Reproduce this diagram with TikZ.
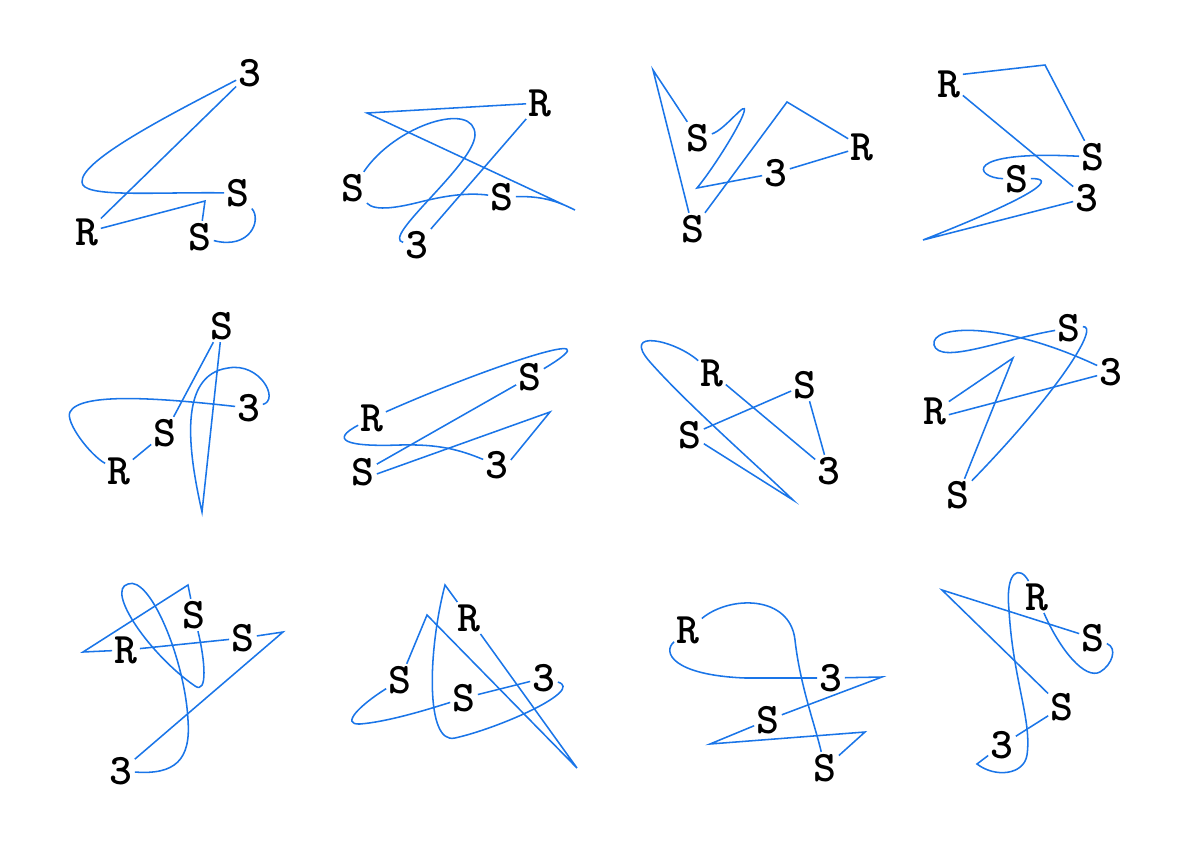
\documentclass[tikz,border=0pt]{standalone}
\usepackage{tikz}
\definecolor{wireblue}{RGB}{26,117,232}
\tikzset{
  lbl/.style={font=\ttfamily\bfseries\fontsize{31}{33}\selectfont, inner sep=1.5pt},
  wire/.style={draw=wireblue, line width=1.1pt},
}
\begin{document}
\begin{tikzpicture}[x=0.025cm, y=-0.025cm]
  \useasboundingbox (0,0) rectangle (1191,842);
  \node[lbl] (T1) at (250,73) {3};
  \node[lbl] (Sa1) at (238,193) {S};
  \node[lbl] (Sb1) at (200,237) {S};
  \node[lbl] (R1) at (87,232) {R};
  \coordinate (v1) at (205,201);
  \draw[wire] (T1) -- (R1);
  \draw[wire] (R1) -- (v1) -- (Sb1);
  \draw[wire] (T1) .. controls (175,112) and (80,160) .. (82,182) .. controls (82,198) and (150,192) .. (Sa1);
  \draw[wire] (Sa1) .. controls (262,220) and (250,250) .. (Sb1);

  \node[lbl] (R2) at (540,103) {R};
  \node[lbl] (Sa2) at (353,188) {S};
  \node[lbl] (Sb2) at (502,197) {S};
  \node[lbl] (T2) at (417,245) {3};
  \coordinate (v2a) at (367,113);
  \coordinate (v2b) at (575,210);
  \draw[wire] (R2) -- (v2a) -- (v2b) .. controls (555,200) and (540,196) .. (Sb2);
  \draw[wire] (R2) -- (T2);
  \draw[wire] (Sa2) .. controls (395,125) and (475,100) .. (475,135) .. controls (474,165) and (380,238) .. (T2);
  \draw[wire] (Sa2) .. controls (375,212) and (400,207) .. (420,202) .. controls (440,197) and (465,192) .. (Sb2);

  \node[lbl] (Sa3) at (698,138) {S};
  \node[lbl] (Sb3) at (693,229) {S};
  \node[lbl] (T3) at (776,173) {3};
  \node[lbl] (R3) at (862,147) {R};
  \coordinate (v3a) at (653,70);
  \coordinate (v3b) at (697,188);
  \coordinate (v3c) at (787,102);
  \draw[wire] (Sa3) -- (v3a) -- (Sb3);
  \draw[wire] (Sa3) .. controls (725,130) and (748,98) .. (744,112) .. controls (740,126) and (712,170) .. (v3b) -- (T3);
  \draw[wire] (Sb3) -- (v3c) -- (R3);
  \draw[wire] (R3) -- (T3);

  \node[lbl] (R4) at (949,84) {R};
  \node[lbl] (Sa4) at (1093,157) {S};
  \node[lbl] (Sb4) at (1017,179) {S};
  \node[lbl] (T4) at (1087,198) {3};
  \coordinate (v4a) at (1045,65);
  \coordinate (v4b) at (923,240);
  \draw[wire] (R4.35) -- (v4a) -- (Sa4);
  \draw[wire] (R4) -- (T4);
  \draw[wire] (Sa4) .. controls (960,150) and (975,178) .. (Sb4);
  \draw[wire] (Sb4) .. controls (1055,178) and (1045,192) .. (v4b) -- (T4);

  \node[lbl] (Sa5) at (222,326) {S};
  \node[lbl] (T5) at (249,408) {3};
  \node[lbl] (Sb5) at (165,433) {S};
  \node[lbl] (R5) at (119,471) {R};
  \coordinate (v5a) at (202,512);
  \draw[wire] (Sa5) -- (Sb5);
  \draw[wire] (Sa5) -- (v5a) .. controls (188,450) and (178,375) .. (228,368) .. controls (260,362) and (280,400) .. (T5);
  \draw[wire] (T5) .. controls (160,398) and (80,392) .. (70,412) .. controls (65,422) and (90,455) .. (R5);
  \draw[wire] (R5) -- (Sb5);

  \node[lbl] (Sa6) at (530,377) {S};
  \node[lbl] (R6) at (372,418) {R};
  \node[lbl] (Sb6) at (363,472) {S};
  \node[lbl] (T6) at (497,465) {3};
  \coordinate (v6a) at (550,412);
  \draw[wire] (R6) .. controls (480,370) and (625,320) .. (Sa6);
  \draw[wire] (Sa6) -- (Sb6);
  \draw[wire] (Sb6.-8) -- (v6a) -- (T6.20);
  \draw[wire] (R6) .. controls (330,440) and (345,447) .. (400,445) .. controls (440,444) and (460,450) .. (T6);

  \node[lbl] (R7) at (712,373) {R};
  \node[lbl] (Sa7) at (805,385) {S};
  \node[lbl] (Sb7) at (690,435) {S};
  \node[lbl] (T7) at (829,471) {3};
  \coordinate (v7a) at (793,500);
  \draw[wire] (R7) .. controls (675,340) and (620,328) .. (650,362) .. controls (688,405) and (760,468) .. (v7a) -- (Sb7);
  \draw[wire] (R7) -- (T7);
  \draw[wire] (Sa7) -- (Sb7);
  \draw[wire] (Sa7) -- (T7);

  \node[lbl] (Sa8) at (1069,328) {S};
  \node[lbl] (T8) at (1111,372) {3};
  \node[lbl] (R8) at (935,411) {R};
  \node[lbl] (Sb8) at (958,495) {S};
  \coordinate (v8a) at (1013,358);
  \draw[wire] (Sa8) .. controls (1000,340) and (940,365) .. (934,345) .. controls (930,325) and (1000,320) .. (T8);
  \draw[wire] (Sa8) .. controls (1100,325) and (1060,390) .. (Sb8);
  \draw[wire] (R8) -- (v8a) -- (Sb8);
  \draw[wire] (R8.-15) -- (T8);

  \node[lbl] (Sa9) at (194,615) {S};
  \node[lbl] (Sb9) at (243,638) {S};
  \node[lbl] (R9) at (126,650) {R};
  \node[lbl] (T9) at (121,771) {3};
  \coordinate (v9a) at (83,652);
  \coordinate (v9b) at (188,585);
  \coordinate (v9c) at (283,632);
  \draw[wire] (R9) -- (v9a) -- (v9b) -- (Sa9);
  \draw[wire] (R9) -- (Sb9);
  \draw[wire] (Sb9) -- (v9c) -- (T9);
  \draw[wire] (Sa9) .. controls (205,660) and (208,695) .. (195,686) .. controls (150,655) and (105,590) .. (128,584) .. controls (150,575) and (185,660) .. (188,720) .. controls (191,760) and (175,775) .. (T9);

  \node[lbl] (R10) at (469,618) {R};
  \node[lbl] (Sa10) at (400,680) {S};
  \node[lbl] (Sb10) at (464,698) {S};
  \node[lbl] (T10) at (544,678) {3};
  \coordinate (v10a) at (445,585);
  \coordinate (v10b) at (427,615);
  \coordinate (v10c) at (577,768);
  \draw[wire] (R10) -- (v10a) .. controls (428,650) and (425,745) .. (455,738) .. controls (500,728) and (585,690) .. (T10);
  \draw[wire] (Sa10) .. controls (360,705) and (340,725) .. (360,724) .. controls (385,722) and (420,712) .. (Sb10);
  \draw[wire] (Sa10) -- (v10b) -- (v10c) -- (R10);
  \draw[wire] (Sb10) -- (T10);

  \node[lbl] (R11) at (688,630) {R};
  \node[lbl] (T11) at (831,678) {3};
  \node[lbl] (Sa11) at (768,720) {S};
  \node[lbl] (Sb11) at (825,768) {S};
  \coordinate (v11a) at (882,677);
  \coordinate (v11b) at (710,744);
  \coordinate (v11c) at (865,732);
  \draw[wire] (R11) .. controls (730,595) and (790,595) .. (795,640) .. controls (800,685) and (815,725) .. (Sb11);
  \draw[wire] (R11) .. controls (662,652) and (672,675) .. (745,678) -- (T11);
  \draw[wire] (T11) -- (v11a) -- (Sa11);
  \draw[wire] (Sa11) -- (v11b) -- (v11c) -- (Sb11);

  \node[lbl] (R12) at (1037,597) {R};
  \node[lbl] (Sa12) at (1093,638) {S};
  \node[lbl] (Sb12) at (1062,707) {S};
  \node[lbl] (T12) at (1002,745) {3};
  \coordinate (v12a) at (942,590);
  \coordinate (v12b) at (977,764);
  \draw[wire] (Sa12) -- (v12a) -- (Sb12);
  \draw[wire] (R12) .. controls (1020,565) and (1005,570) .. (1009,610) .. controls (1013,680) and (1032,720) .. (1027,755) .. controls (1024,775) and (995,778) .. (v12b) -- (T12);
  \draw[wire] (R12) .. controls (1060,650) and (1085,680) .. (1100,672) .. controls (1112,665) and (1118,648) .. (Sa12);
  \draw[wire] (Sb12) -- (T12);
\end{tikzpicture}
\end{document}
